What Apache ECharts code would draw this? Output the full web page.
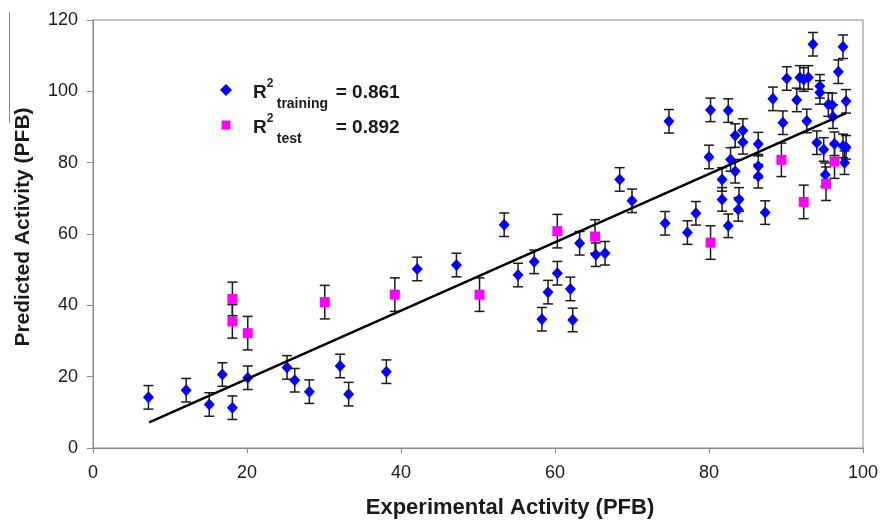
<!DOCTYPE html>
<html>
<head>
<meta charset="utf-8">
<script src="https://cdn.jsdelivr.net/npm/echarts@6/dist/echarts.min.js"></script>
<style>
  html, body { margin: 0; padding: 0; background: #ffffff; }
  #chart { width: 882px; height: 524px; }
</style>
</head>
<body>
<div id="chart"></div>
<script>
// ---- data ----
const trainX = [7.2, 12.1, 15.1, 16.8, 18.1, 20.1, 25.2, 26.2, 28.1, 32.1, 33.2, 38.1,
  42.1, 47.2, 53.4, 55.2, 57.3, 58.3, 59.1, 60.3, 62.0, 62.3, 63.2, 65.3, 66.5,
  68.4, 70.0, 74.3, 74.8, 77.2, 78.3, 80.0, 80.2, 81.7, 81.7, 82.5, 82.5, 82.8,
  83.4, 83.4, 83.9, 83.8, 84.4, 84.4, 86.4, 86.4, 86.4, 87.3, 88.3, 89.6, 90.1,
  91.4, 91.8, 92.3, 92.9, 92.7, 93.5, 94.4, 94.4, 94.0, 94.9, 95.1, 95.5, 96.0,
  96.1, 96.3, 96.8, 97.4, 97.8, 97.4, 97.8, 97.6];
const trainY = [14.2, 16.2, 12.2, 20.6, 11.3, 19.7, 22.6, 19.0, 15.8, 23.0, 15.1, 21.4,
  50.2, 51.3, 62.6, 48.5, 52.2, 36.1, 43.7, 49.0, 44.6, 35.9, 57.4, 54.2, 54.6,
  75.3, 69.3, 63.0, 91.6, 60.4, 65.8, 81.6, 94.8, 75.3, 69.7, 94.6, 62.3, 80.9,
  87.6, 77.6, 69.7, 66.9, 89.0, 85.7, 85.2, 79.0, 76.2, 66.0, 97.9, 91.2, 103.6,
  97.6, 103.9, 103.3, 103.9, 91.7, 113.2, 101.4, 99.7, 85.6, 83.7, 76.6, 96.3, 96.2,
  92.9, 85.3, 105.5, 112.5, 97.2, 84.7, 84.3, 80.0];
const testX = [18.1, 18.1, 20.1, 30.1, 39.2, 50.2, 60.3, 65.2, 80.2, 89.4, 92.3, 95.2, 96.3];
const testY = [41.8, 35.5, 32.2, 40.9, 43.0, 43.0, 60.8, 59.3, 57.6, 80.8, 69.0, 74.1, 80.3];
const trainErr = 3.3;
const testErr = 4.7;
const fitX = [7.3, 97.8];
const fitY = [7.2, 93.9];
const r2Training = '0.861';
const r2Test = '0.892';
const xTitle = 'Experimental Activity (PFB)';
const yTitle = 'Predicted Activity (PFB)';

// ---- build library data ----
const trainPts = trainX.map((x, i) => [x, trainY[i]]);
const testPts = testX.map((x, i) => [x, testY[i]]);
const trainBars = trainX.map((x, i) => [x, trainY[i] - trainErr, trainY[i] + trainErr]);
const testBars = testX.map((x, i) => [x, testY[i] - testErr, testY[i] + testErr]);
const fitPts = fitX.map((x, i) => [x, fitY[i]]);

const FONT = '"Liberation Sans", Arial, Helvetica, sans-serif';
const TXT = '#1a1a1a';
const GRAY = '#8a8a8a';

function renderErr(params, api) {
  const x = api.value(0);
  const lo = api.coord([x, api.value(1)]);
  const hi = api.coord([x, api.value(2)]);
  const cw = 5;
  const st = { stroke: '#1a1a1a', lineWidth: 1.5 };
  return {
    type: 'group',
    children: [
      { type: 'line', shape: { x1: hi[0], y1: hi[1], x2: lo[0], y2: lo[1] }, style: st },
      { type: 'line', shape: { x1: hi[0] - cw, y1: hi[1], x2: hi[0] + cw, y2: hi[1] }, style: st },
      { type: 'line', shape: { x1: lo[0] - cw, y1: lo[1], x2: lo[0] + cw, y2: lo[1] }, style: st }
    ]
  };
}

const chart = echarts.init(document.getElementById('chart'), null, { renderer: 'canvas' });
chart.setOption({
  animation: false,
  backgroundColor: '#ffffff',
  grid: {
    left: 93, right: 19, top: 20, bottom: 74,
    show: true, borderColor: GRAY, borderWidth: 1, backgroundColor: 'transparent'
  },
  xAxis: {
    type: 'value', min: 0, max: 100, interval: 20,
    name: xTitle, nameLocation: 'middle', nameGap: 49,
    nameTextStyle: { fontFamily: FONT, fontSize: 22, fontWeight: 'bold', color: TXT, padding: [0, 0, 0, 64] },
    axisLine: { show: true, lineStyle: { color: GRAY, width: 1 } },
    axisTick: { show: true, inside: false, length: 5, lineStyle: { color: GRAY } },
    axisLabel: { fontFamily: FONT, fontSize: 18, color: TXT, margin: 16 },
    splitLine: { show: false }
  },
  yAxis: {
    type: 'value', min: 0, max: 120, interval: 20,
    name: yTitle, nameLocation: 'middle', nameGap: 59,
    nameTextStyle: { fontFamily: FONT, fontSize: 21, fontWeight: 'bold', color: TXT, padding: [0, 0, 0, 14] },
    axisLine: { show: true, lineStyle: { color: GRAY, width: 1 } },
    axisTick: { show: true, inside: false, length: 6, lineStyle: { color: GRAY } },
    axisLabel: { fontFamily: FONT, fontSize: 18, color: TXT, margin: 15 },
    splitLine: { show: false }
  },
  legend: {
    orient: 'vertical', left: 220, top: 75, padding: 0,
    itemWidth: 12, itemHeight: 12, itemGap: -1,
    selectedMode: false,
    data: [
      { name: 'training', icon: 'diamond' },
      { name: 'test', icon: 'path://M0,0M12,12M1.5,1.5L10.5,1.5L10.5,10.5L1.5,10.5Z' }
    ],
    formatter: function (name) {
      if (name === 'training') return '{sp| }{r|R}{sup|2}{sub|training}{eq|= ' + r2Training + '}';
      return '{sp| }{r|R}{sup|2}{sub|test}{eq|= ' + r2Test + '}';
    },
    textStyle: {
      fontFamily: FONT, color: TXT,
      rich: {
        sp: { width: 16, fontSize: 2, lineHeight: 30, verticalAlign: 'middle' },
        r: { fontFamily: FONT, fontSize: 19, fontWeight: 'bold', color: TXT, lineHeight: 20, verticalAlign: 'middle', padding: [6, 0, 0, 0] },
        sup: { fontFamily: FONT, fontSize: 12, fontWeight: 'bold', color: TXT, lineHeight: 12, verticalAlign: 'top', padding: [3, 0, 0, 0], width: 10 },
        sub: { fontFamily: FONT, fontSize: 14, fontWeight: 'bold', color: TXT, lineHeight: 14, verticalAlign: 'top', padding: [22, 0, 0, 0], width: 59 },
        eq: { fontFamily: FONT, fontSize: 19, fontWeight: 'bold', color: TXT, lineHeight: 20, verticalAlign: 'middle', padding: [6, 0, 0, 0] }
      }
    }
  },
  graphic: [
    { type: 'line', shape: { x1: 9.5, y1: 12, x2: 9.5, y2: 123 }, style: { stroke: GRAY, lineWidth: 1 } }
  ],
  series: [
    {
      name: 'trainErr', type: 'custom', renderItem: renderErr, data: trainBars,
      encode: { x: 0, y: [1, 2] }, z: 1, silent: true
    },
    {
      name: 'testErr', type: 'custom', renderItem: renderErr, data: testBars,
      encode: { x: 0, y: [1, 2] }, z: 1, silent: true
    },
    {
      name: 'training', type: 'scatter', data: trainPts,
      symbol: 'diamond', symbolSize: [11, 12],
      itemStyle: { color: '#0000ff', opacity: 1 }, z: 3
    },
    {
      name: 'test', type: 'scatter', data: testPts,
      symbol: 'rect', symbolSize: 10,
      itemStyle: { color: '#ff00ff', opacity: 1 }, z: 3
    },
    {
      name: 'fit', type: 'line', data: fitPts, symbol: 'none',
      lineStyle: { color: '#000000', width: 2.5 }, z: 4, silent: true
    }
  ]
});
</script>
</body>
</html>
